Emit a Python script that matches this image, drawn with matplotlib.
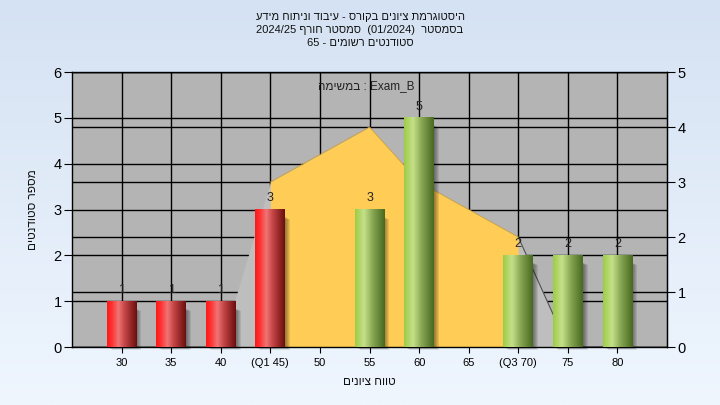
import numpy as np
import matplotlib
matplotlib.use("Agg")
import matplotlib.pyplot as plt
from matplotlib.colors import LinearSegmentedColormap
from matplotlib.patches import Rectangle

plt.rcParams['font.family'] = ['Liberation Sans', 'DejaVu Sans']

# ---------------- data ----------------
grades = [30, 35, 40, 45, 50, 55, 60, 65, 70, 75, 80]
tick_labels = ["30", "35", "40", "(Q1 45)", "50", "55", "60", "65", "(Q3 70)", "75", "80"]
counts = [1, 1, 1, 3, 0, 3, 5, 0, 2, 2, 2]
q1 = 45
q3 = 70
curve_x = [40, 45, 50, 55, 60, 65, 70, 75, 80]
curve_y = [0, 3, 3.5, 4, 3, 2.5, 2, 0, 0]   # right-axis units

title_lines = ["היסטוגרמת ציונים בקורס - עיבוד וניתוח מידע",
               "בסמסטר  (01/2024)  סמסטר חורף 2024/25",
               "סטודנטים רשומים - 65"]
task_text = "Exam_B : במשימה"
x_label = "טווח ציונים"
y_label = "מספר סטודנטים"


def vis(s):
    """Simple visual reordering of an RTL string (matplotlib has no bidi)."""
    r = s[::-1]
    out, run = [], ''
    for ch in r:
        if ch.isascii() and (ch.isalnum() or ch in '/_.'):
            run += ch
        else:
            if run:
                out.append(run[::-1])
                run = ''
            out.append({'(': ')', ')': '('}.get(ch, ch))
    if run:
        out.append(run[::-1])
    return ''.join(out)


LEFT_MAX, RIGHT_MAX = 6, 5
to_left = lambda v: np.asarray(v, dtype=float) * LEFT_MAX / RIGHT_MAX
to_right = lambda v: np.asarray(v, dtype=float) * RIGHT_MAX / LEFT_MAX

fig = plt.figure(figsize=(7.2, 4.05), dpi=100)

# background gradient
bg = fig.add_axes([0, 0, 1, 1], zorder=-10)
grad = np.linspace(0, 1, 256).reshape(-1, 1)
bg_cmap = LinearSegmentedColormap.from_list('bg', ['#d5e2f3', '#eff6fe'])
bg.imshow(grad, aspect='auto', cmap=bg_cmap, extent=[0, 1, 0, 1], origin='upper')
bg.set_axis_off()

ax = fig.add_axes([0.1, 0.1432, 0.8264, 0.679])
ax.set_facecolor('#b4b4b4')
ax.set_xlim(25, 85)
ax.set_ylim(0, LEFT_MAX)

# grid lines (left ticks + right ticks + verticals) below everything
for v in range(0, LEFT_MAX + 1):
    ax.axhline(v, color='black', lw=1, zorder=0.5)
for v in range(0, RIGHT_MAX + 1):
    ax.axhline(float(to_left(v)), color='black', lw=1, zorder=0.5)
for g in grades:
    ax.axvline(g, color='black', lw=1, zorder=0.5)

# distribution area (right axis scale)
cx = np.array(curve_x, dtype=float)
cy_left = to_left(curve_y)
ax.fill_between(cx, 0, cy_left, color='#bebebe', lw=0, zorder=1)
inside = (cx >= q1) & (cx <= q3)
ax.fill_between(cx[inside], 0, cy_left[inside], color='#ffcc55', lw=0, zorder=1.1)
ax.plot(cx[inside], cy_left[inside], color='#c8a040', lw=0.6, zorder=1.2)
right_part = cx >= q3
ax.plot(cx[right_part], cy_left[right_part], color='#505050', lw=0.8, zorder=1.2)

# bars with cylinder gradient + shadow
red_cmap = LinearSegmentedColormap.from_list(
    'red', [(0, '#ff1818'), (0.15, '#ff3030'), (0.38, '#f07474'), (0.6, '#c44444'), (1, '#6a0e0e')])
green_cmap = LinearSegmentedColormap.from_list(
    'green', [(0, '#9ccc46'), (0.3, '#c6e08a'), (0.6, '#86a652'), (1, '#486820')])

bar_w = 3.0
bars = ax.bar(grades, counts, width=bar_w, color='none', edgecolor='none', zorder=3)
hgrad = np.linspace(0, 1, 128).reshape(1, -1)
for g, c, b in zip(grades, counts, bars):
    if c <= 0:
        continue
    x0, w, h = b.get_x(), b.get_width(), b.get_height()
    # shadow
    for k in range(1, 6):
        ax.add_patch(Rectangle((x0 + 0.1 * k, -0.012 * k), w, h - 0.15,
                               facecolor='black', alpha=0.09, lw=0, zorder=2.5, clip_on=False))
    cmap = red_cmap if g <= q1 else green_cmap
    ax.imshow(hgrad, aspect='auto', cmap=cmap, extent=[x0, x0 + w, 0, h],
              zorder=3, interpolation='bilinear')
    ax.annotate(str(c), (g, h), xytext=(0, 8), textcoords='offset points',
                ha='center', va='center', fontsize=9, color='#222222', zorder=4)

ax.set_xlim(25, 85)
ax.set_ylim(0, LEFT_MAX)

# axes styling
for s in ax.spines.values():
    s.set_color('black')
    s.set_linewidth(1)
ax.set_xticks(grades)
ax.set_xticklabels(tick_labels)
ax.set_yticks(range(0, LEFT_MAX + 1))
ax.tick_params(axis='x', length=4, direction='out', labelsize=8, pad=4, colors='black')
ax.tick_params(axis='y', length=6, direction='out', labelsize=10.5, pad=1.5, colors='black')

sec = ax.secondary_yaxis('right', functions=(to_right, to_left))
sec.set_yticks(range(0, RIGHT_MAX + 1))
sec.tick_params(axis='y', length=6, direction='out', labelsize=10.5, pad=1.5, colors='black')
sec.spines['right'].set_color('black')

ax.set_xlabel(vis(x_label), fontsize=8.5, labelpad=6, color='#111111')
ax.set_ylabel(vis(y_label), fontsize=8.5, labelpad=10, color='#111111')

ax.text(0.494, 0.949, vis(task_text), transform=ax.transAxes, ha='center', va='center',
        fontsize=8.5, color='#222222', zorder=5)

# title lines
for i, line in enumerate(title_lines):
    fig.text(0.5, 1 - (17 + 13 * i) / 405, vis(line), ha='center', va='center',
             fontsize=8, color='#111111')

fig.savefig('out.png', dpi=100)
